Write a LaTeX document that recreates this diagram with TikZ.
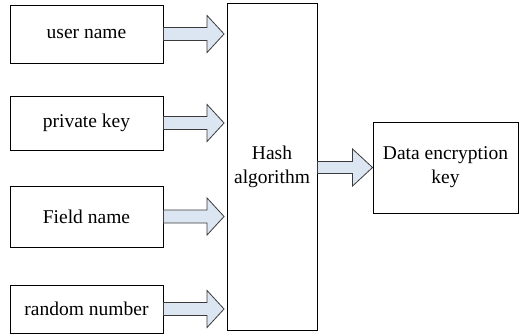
\documentclass[tikz,border=0pt]{standalone}
\usepackage{fontspec}
\setmainfont{Liberation Serif}
\usetikzlibrary{calc}
\definecolor{arrowblue}{HTML}{DCE6F2}
\definecolor{edgegrey}{HTML}{3A3A3A}
\tikzset{
  box/.style={draw=black, line width=0.9pt, align=center, inner sep=0pt,
    font=\fontsize{19.5}{24}\selectfont},
  arrowfill/.style={draw=edgegrey, line width=0.8pt, fill=arrowblue, line join=miter}
}
% block arrow from the east side of one node to a point further right
% #1 start, #2 tip, #3 shaft half height, #4 head half height, #5 head length
\newcommand\blockarrow[5]{%
  \draw[arrowfill] let \p1=#1, \p2=#2 in
    (\x1,\y1+#3) -- (\x2-#5,\y1+#3) -- (\x2-#5,\y1+#4) -- (\x2,\y1)
    -- (\x2-#5,\y1-#4) -- (\x2-#5,\y1-#3) -- (\x1,\y1-#3) -- cycle;}
\begin{document}
\begin{tikzpicture}[x=1pt,y=1pt]
  \useasboundingbox (0,0) rectangle (519,-334);
  % input boxes
  \node[box, minimum width=153, minimum height=58] (user)  at (86.5,-34)   {user name};
  \node[box, minimum width=153, minimum height=54] (priv)  at (86.5,-123)  {private key};
  \node[box, minimum width=153, minimum height=61] (field) at (86.5,-216.5){Field name};
  \node[box, minimum width=153, minimum height=48] (rand)  at (86.5,-309)  {random number};
  % hash block and result
  \node[box, minimum width=90, minimum height=327] (hash) at (272,-166.5) {Hash\\algorithm};
  \node[box, minimum width=145, minimum height=91] (dek)  at (445.5,-167.5) {Data encryption\\key};
  % arrow tips just short of the hash block
  \coordinate (tu) at ($(hash.west |- user.east)+(-2.5,0)$);
  \coordinate (tp) at ($(hash.west |- priv.east)+(-2.5,0)$);
  \coordinate (tf) at ($(hash.west |- field.east)+(-2.5,0)$);
  \coordinate (tr) at ($(hash.west |- rand.east)+(-2.5,0)$);
  \blockarrow{(user.east)}{(tu)}{6.5pt}{18.5pt}{17pt}
  \blockarrow{(priv.east)}{(tp)}{6.5pt}{18.5pt}{17pt}
  \blockarrow{(field.east)}{(tf)}{6.5pt}{18.5pt}{17pt}
  \blockarrow{(rand.east)}{(tr)}{6.5pt}{18.5pt}{17pt}
  \coordinate (hs) at (hash.east |- dek.west);
  \blockarrow{(hs)}{(dek.west)}{6pt}{18.5pt}{20pt}
\end{tikzpicture}
\end{document}
